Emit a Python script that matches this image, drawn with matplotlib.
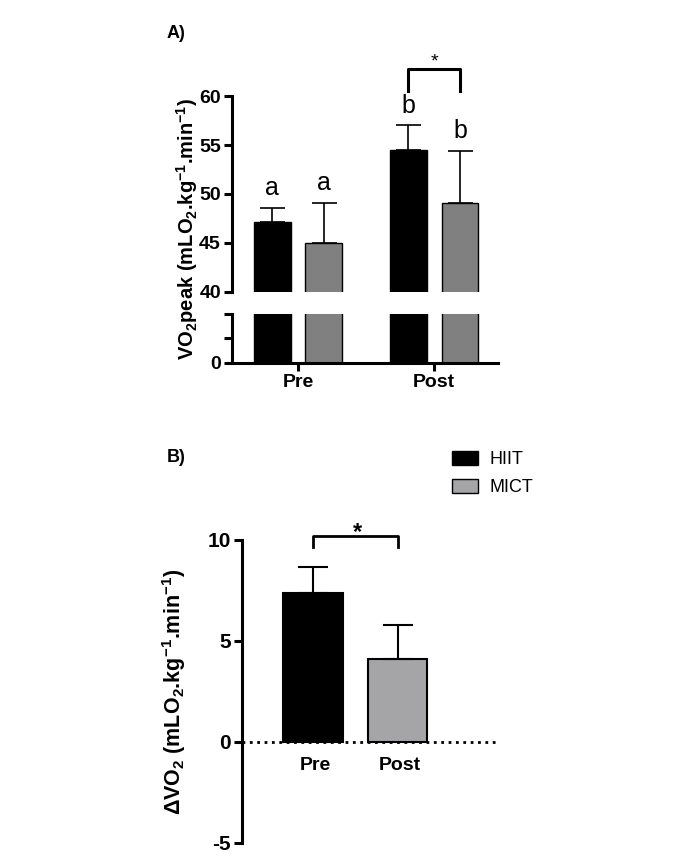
import matplotlib.pyplot as plt
import numpy as np
from matplotlib.patches import Patch

# Polices : Liberation Sans (proche d'Arial), en gras par défaut
plt.rcParams['font.family'] = ['Liberation Sans', 'DejaVu Sans']
plt.rcParams['font.weight'] = 'bold'
plt.rcParams['mathtext.fontset'] = 'custom'
plt.rcParams['mathtext.rm'] = 'Liberation Sans:bold'
plt.rcParams['mathtext.it'] = 'Liberation Sans:bold'
plt.rcParams['mathtext.bf'] = 'Liberation Sans:bold'
plt.rcParams['mathtext.default'] = 'rm'
plt.rcParams['axes.unicode_minus'] = False

# Données du panneau A : VO2peak
groupes = ['Pre', 'Post']
hiit_moy = [47.1, 54.5]
hiit_sd = [1.5, 2.5]
mict_moy = [45.0, 49.1]
mict_sd = [4.1, 5.3]
lettres_hiit = ['a', 'b']
lettres_mict = ['a', 'b']

# Données du panneau B : delta VO2
delta_noms = ['Pre', 'Post']
delta_moy = [7.35, 4.1]
delta_sd = [1.3, 1.7]

noir = 'black'
gris_a = '#808080'
gris_b = '#a5a5a7'

W, H = 692, 868
fig = plt.figure(figsize=(W / 100, H / 100), dpi=100)


# rectangle en pixels (gauche, haut, droite, bas) -> coordonnées figure
def rect(x0, y_haut, x1, y_bas):
    return [x0 / W, 1 - y_bas / H, (x1 - x0) / W, (y_bas - y_haut) / H]


# ---------- Panneau A (axe coupé) ----------
ax_haut = fig.add_axes(rect(232, 47.2, 498, 291.7))
ax_bas = fig.add_axes(rect(232, 314, 498, 362.7))

x = np.arange(len(groupes))
dx, larg = 0.19, 0.27
for ax in (ax_haut, ax_bas):
    ax.bar(x - dx, hiit_moy, larg, color=noir, edgecolor=noir, lw=1)
    ax.bar(x + dx, mict_moy, larg, color=gris_a, edgecolor=noir, lw=1)
    ax.set_xlim(-0.485, 1.47)
    ax.spines[['top', 'right']].set_visible(False)
    ax.spines['left'].set_linewidth(2.2)
    ax.spines['bottom'].set_linewidth(2.2)
    ax.tick_params(width=2.2, length=6, labelsize=14, pad=2)

ax_haut.errorbar(x - dx, hiit_moy, yerr=[np.zeros(2), hiit_sd], fmt='none',
                 ecolor=noir, elinewidth=1.2, capsize=9, capthick=1.2)
ax_haut.errorbar(x + dx, mict_moy, yerr=[np.zeros(2), mict_sd], fmt='none',
                 ecolor=noir, elinewidth=1.2, capsize=9, capthick=1.2)

ax_haut.set_ylim(40, 65)
ax_haut.set_yticks([40, 45, 50, 55, 60])
ax_haut.spines['left'].set_bounds(40, 60)
ax_haut.spines['bottom'].set_visible(False)
ax_haut.tick_params(axis='x', bottom=False, labelbottom=False)

ax_bas.set_ylim(0, 20)
ax_bas.set_yticks([0, 10, 20], ['0', '', ''])
ax_bas.spines['left'].set_bounds(0, 20)
ax_bas.set_xticks(x, groupes)

# lettres au-dessus des barres
for i in range(len(groupes)):
    ax_haut.text(x[i] - dx, hiit_moy[i] + hiit_sd[i] + 1.3, lettres_hiit[i],
                 ha='center', va='baseline', fontsize=18, fontweight='normal')
    ax_haut.text(x[i] + dx, mict_moy[i] + mict_sd[i] + 1.3, lettres_mict[i],
                 ha='center', va='baseline', fontsize=18, fontweight='normal')

# crochet de significativité (Post)
ax_haut.plot([x[1] - dx, x[1] - dx, x[1] + dx, x[1] + dx], [60.5, 62.8, 62.8, 60.5],
             color=noir, lw=2.2, clip_on=False)
ax_haut.text(x[1], 63.0, '*', ha='center', va='baseline', fontsize=14, fontweight='normal')

fig.text(187 / W, 1 - 229 / H, 'VO$_2$peak (mLO$_2$.kg$^{-1}$.min$^{-1}$)',
         rotation=90, ha='center', va='center', fontsize=14.5)
fig.text(167 / W, 1 - 33 / H, 'A)', va='center', fontsize=13)

# ---------- Panneau B ----------
ax_b = fig.add_axes(rect(241.7, 509.4, 500, 842.7))
xb = np.arange(len(delta_noms))
ax_b.axhline(0, color=noir, ls=':', lw=2, zorder=0)
ax_b.bar(xb, delta_moy, 0.70, color=[noir, gris_b], edgecolor=noir, lw=1.5)
ax_b.errorbar(xb, delta_moy, yerr=[np.zeros(2), delta_sd], fmt='none',
              ecolor=noir, elinewidth=1.5, capsize=11, capthick=1.5)
ax_b.set_xlim(-0.844, 2.213)
ax_b.set_ylim(-5, 11.5)
ax_b.set_yticks([-5, 0, 5, 10])
ax_b.spines[['top', 'right', 'bottom']].set_visible(False)
ax_b.spines['left'].set_linewidth(2.2)
ax_b.spines['left'].set_bounds(-5, 10)
ax_b.tick_params(axis='y', width=2.2, length=6, labelsize=15, pad=2)
ax_b.tick_params(axis='x', bottom=False, labelbottom=False)

for xi, nom in zip(xb, delta_noms):
    ax_b.annotate(nom, (xi, 0), xytext=(2, -11), textcoords='offset points',
                  ha='center', va='top', fontsize=14)

ax_b.plot([xb[0], xb[0], xb[1], xb[1]], [9.65, 10.2, 10.2, 9.65],
          color=noir, lw=2, clip_on=False)
ax_b.text(0.53, 10.05, '*', ha='center', va='baseline', fontsize=17)

fig.text(174 / W, 1 - 692 / H, 'ΔVO$_2$ (mLO$_2$.kg$^{-1}$.min$^{-1}$)',
         rotation=90, ha='center', va='center', fontsize=15.5)
fig.text(167 / W, 1 - 458 / H, 'B)', va='center', fontsize=13)

poignees = [Patch(facecolor=noir, edgecolor=noir), Patch(facecolor=gris_b, edgecolor=noir)]
fig.legend(poignees, ['HIIT', 'MICT'], loc='upper left',
           bbox_to_anchor=(452 / W, 1 - 451 / H), frameon=False, borderpad=0,
           borderaxespad=0, handlelength=1.45, handleheight=0.8, labelspacing=0.6,
           handletextpad=0.65, prop={'size': 13, 'weight': 'normal'})

fig.savefig('out.png', dpi=100)
